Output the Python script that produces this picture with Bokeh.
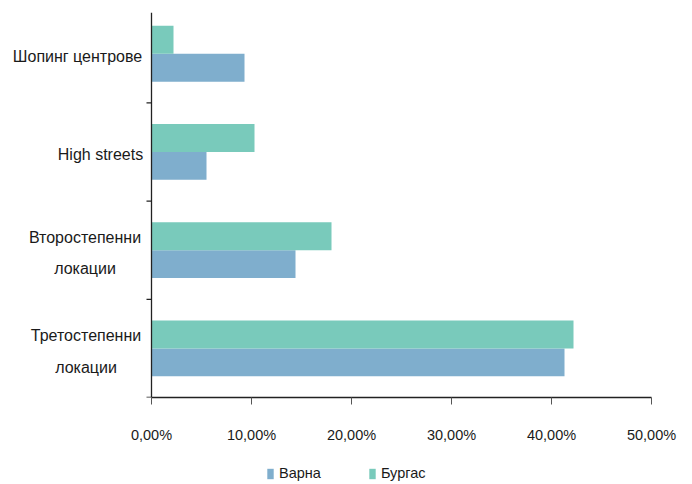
from bokeh.plotting import figure
from bokeh.layouts import column
from bokeh.models import ColumnDataSource, FixedTicker, Legend, LegendItem
from bokeh.core.properties import value
from bokeh.embed import file_html
from bokeh.resources import INLINE

# Share of retail locations by type, Varna vs Burgas (percent)
categories = ["Шопинг центрове", "High streets", "Второстепенни\nлокации", "Третостепенни\nлокации"]
varna = [9.3, 5.5, 14.4, 41.3]
burgas = [2.2, 10.3, 18.0, 42.2]
series_names = ["Варна", "Бургас"]
x_ticks = [0, 10, 20, 30, 40, 50]
x_tick_labels = ["0,00%", "10,00%", "20,00%", "30,00%", "40,00%", "50,00%"]

FONT = "Liberation Sans"
TEXT = "#1a1a1a"
AXIS = "#222222"
C_VARNA = "#7faecd"
C_BURGAS = "#79cabb"

n = len(categories)
# first category sits at the top of the axis
centers = [n - 0.5 - i for i in range(n)]
bar_h = 0.284
y_top = 3.92

# the frame reaches left of zero so the category names live inside it
px_per_unit = 10.0
x_left = -151 / px_per_unit

src = ColumnDataSource(dict(
    y=centers,
    y_varna=[c - bar_h / 2 for c in centers],
    y_burgas=[c + bar_h / 2 for c in centers],
    varna=varna,
    burgas=burgas,
))

p = figure(width=692, height=462, x_range=(x_left, 50), y_range=(0, y_top),
           output_backend="svg", toolbar_location=None,
           min_border_left=0, min_border_right=41,
           min_border_top=12, min_border_bottom=65)
p.outline_line_color = None
p.xgrid.grid_line_color = None
p.ygrid.grid_line_color = None
p.yaxis.visible = False

r_v = p.hbar(y="y_varna", left=0, right="varna", height=bar_h, source=src,
             fill_color=C_VARNA, line_color=None)
r_b = p.hbar(y="y_burgas", left=0, right="burgas", height=bar_h, source=src,
             fill_color=C_BURGAS, line_color=None)

# value axis, drawn only over 0..50
xa = p.xaxis[0]
xa.bounds = (x_ticks[0], x_ticks[-1])
xa.ticker = FixedTicker(ticks=x_ticks, minor_ticks=[])
xa.major_label_overrides = {t: lab for t, lab in zip(x_ticks, x_tick_labels)}
xa.axis_line_color = AXIS
xa.axis_line_width = 1.3
xa.major_tick_line_color = "#555555"
xa.major_tick_out = 7
xa.major_tick_in = 0
xa.minor_tick_line_color = None
xa.major_label_standoff = 22
xa.major_label_text_font = FONT
xa.major_label_text_font_size = "14.5px"
xa.major_label_text_color = TEXT

# category axis line at zero with short ticks at the band edges
edges = list(range(n))
p.segment(x0=[0], y0=[0], x1=[0], y1=[y_top], line_color=AXIS, line_width=1.3)
p.segment(x0=[-5 / px_per_unit] * n, y0=edges, x1=[0] * n, y1=edges,
          line_color=AXIS, line_width=1.3)

# category names: each block ends ~11px left of the axis, lines centred
label_right = -11.0 / px_per_unit
approx_width = {"Шопинг центрове": 126, "High streets": 80,
                "Второстепенни\nлокации": 111, "Третостепенни\nлокации": 109}
lab_src = ColumnDataSource(dict(
    x=[label_right - approx_width[lab] / px_per_unit / 2 for lab in categories],
    y=[c - 0.03 for c in centers],
    text=categories,
))
p.text(x="x", y="y", text="text", source=lab_src,
       text_align="center", text_baseline="middle",
       text_font=value(FONT), text_font_size="16px",
       text_color=TEXT, text_line_height=1.85)

# legend strip under the chart; the swatch renderers sit outside its view
lg = figure(width=692, height=22, x_range=(0, 692), y_range=(0, 22),
            output_backend="svg", toolbar_location=None,
            min_border_left=0, min_border_right=0,
            min_border_top=0, min_border_bottom=0)
lg.axis.visible = False
lg.grid.visible = False
lg.outline_line_color = None
sw_v = lg.hbar(y=[-50], left=[0], right=[1], height=1, fill_color=C_VARNA, line_color=None)
sw_b = lg.hbar(y=[-50], left=[0], right=[1], height=1, fill_color=C_BURGAS, line_color=None)
legend = Legend(items=[LegendItem(label=series_names[0], renderers=[sw_v]),
                       LegendItem(label=series_names[1], renderers=[sw_b])],
                orientation="horizontal", location=(266, 1),
                glyph_width=8, glyph_height=13, label_standoff=5, spacing=47,
                padding=0, margin=0, border_line_color=None,
                background_fill_alpha=0,
                label_text_font=FONT, label_text_font_size="14.5px",
                label_text_color=TEXT, label_height=20)
lg.add_layout(legend, "center")

layout = column(p, lg, spacing=0)
open("out.html", "w").write(file_html(layout, INLINE))
